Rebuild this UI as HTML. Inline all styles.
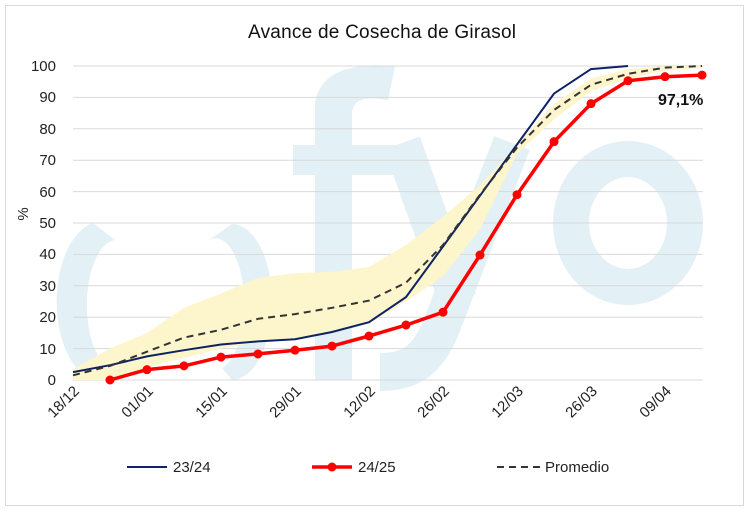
<!DOCTYPE html>
<html><head><meta charset="utf-8"><style>
body{margin:0;background:#fff}
svg{display:block;font-family:"Liberation Sans",sans-serif}
</style></head><body>
<svg width="750" height="514" viewBox="0 0 750 514">
<rect x="5.5" y="5.5" width="738" height="500" fill="#fff" stroke="#d9d9d9"/>
<g fill="#e3f0f5">
<path d="M103 223 A45 80 0 0 0 103 380 L118 367 A30 65 0 0 1 125 240 Z" transform="translate(-10,0)"/>
<path d="M232 224 A40 78 0 0 1 232 380 L222 368 A28 64 0 0 0 209 240 Z"/>
<rect x="315" y="100" width="37" height="280"/>
<path d="M315 110 C315 75 345 62 395 66 L388 100 C362 96 352 100 352 115 Z"/>
<rect x="293" y="145" width="107" height="30"/>
</g>
<g fill="none" stroke="#e3f0f5">
<ellipse cx="628" cy="223" rx="57" ry="64" stroke-width="36"/>
<path d="M402 143 L458 300" stroke-width="38"/>
<path d="M512 143 L440 330 C425 365 405 372 380 372" stroke-width="38"/>
</g>
<g stroke="#d9d9d9" stroke-width="1">
<line x1="73" x2="703" y1="66" y2="66"/><line x1="73" x2="703" y1="97.4" y2="97.4"/>
<line x1="73" x2="703" y1="128.8" y2="128.8"/><line x1="73" x2="703" y1="160.2" y2="160.2"/>
<line x1="73" x2="703" y1="191.6" y2="191.6"/><line x1="73" x2="703" y1="223" y2="223"/>
<line x1="73" x2="703" y1="254.4" y2="254.4"/><line x1="73" x2="703" y1="285.8" y2="285.8"/>
<line x1="73" x2="703" y1="317.2" y2="317.2"/><line x1="73" x2="703" y1="348.6" y2="348.6"/>
<line x1="73" x2="703" y1="380" y2="380"/>
</g>
<g id="plot"></g>
<g font-size="15" fill="#222" text-anchor="end">
<text x="56" y="71">100</text><text x="56" y="102">90</text><text x="56" y="134">80</text>
<text x="56" y="165">70</text><text x="56" y="197">60</text><text x="56" y="228">50</text>
<text x="56" y="259">40</text><text x="56" y="291">30</text><text x="56" y="322">20</text>
<text x="56" y="354">10</text><text x="56" y="385">0</text>
</g>
<text transform="translate(28,214) rotate(-90)" font-size="15" fill="#222" text-anchor="middle">%</text>
<g font-size="15" fill="#222" text-anchor="end">
<text transform="translate(80,392) rotate(-45)">18/12</text>
<text transform="translate(154,392) rotate(-45)">01/01</text>
<text transform="translate(228,392) rotate(-45)">15/01</text>
<text transform="translate(302,392) rotate(-45)">29/01</text>
<text transform="translate(376,392) rotate(-45)">12/02</text>
<text transform="translate(450,392) rotate(-45)">26/02</text>
<text transform="translate(524,392) rotate(-45)">12/03</text>
<text transform="translate(598,392) rotate(-45)">26/03</text>
<text transform="translate(672,392) rotate(-45)">09/04</text>
</g>
<text x="382" y="38" font-size="19" fill="#111" text-anchor="middle" textLength="268">Avance de Cosecha de Girasol</text>
<text x="658" y="105" font-size="16" font-weight="bold" fill="#111">97,1%</text>
<line x1="127" x2="167" y1="467" y2="467" stroke="#0d2366" stroke-width="2"/>
<text x="173" y="472" font-size="15" fill="#222">23/24</text>
<line x1="312" x2="352" y1="467" y2="467" stroke="#f00" stroke-width="3.5"/>
<circle cx="332" cy="467" r="4.5" fill="#f00"/>
<text x="358" y="472" font-size="15" fill="#222">24/25</text>
<line x1="497" x2="540" y1="467" y2="467" stroke="#333" stroke-width="2" stroke-dasharray="7,5"/>
<text x="545" y="472" font-size="15" fill="#222">Promedio</text>
</svg>
<script>
const X=i=>73+37*i, Y=v=>380-3.14*v;
const up=[3.5,10,15,23,27.5,32.5,34,34.5,36,43,52,62,75,88,96,99,100,100];
const lo=[0,0,4,7,10,12,13,15,18,25,33,48,72,83,92,96,98.5,99.5];
const blue=[2.5,4.7,7.5,9.5,11.3,12.3,13,15.3,18.4,26.4,42.5,58.7,75,91.2,99,100];
const avg=[1.5,4.5,9,13.5,16,19.5,21,23,25.3,31,43,59,74,86,94,97.5,99.5,100];
const red=[0,3.3,4.5,7.3,8.3,9.5,10.8,14,17.5,21.6,39.8,59,75.9,88,95.3,96.6,97.1];
const pts=(a,o=0)=>a.map((v,i)=>X(i+o).toFixed(1)+","+Y(v).toFixed(1)).join(" ");
let s='<polygon fill="#fdf5cc" points="'+pts(up)+' '+lo.map((v,i)=>[X(i),Y(v)]).reverse().map(p=>p[0].toFixed(1)+","+p[1].toFixed(1)).join(" ")+'"/>';
s+='<polyline fill="none" stroke="#0d2366" stroke-width="2" points="'+pts(blue)+'"/>';
s+='<polyline fill="none" stroke="#333" stroke-width="2" stroke-dasharray="7,5" points="'+pts(avg)+'"/>';
s+='<polyline fill="none" stroke="#f00" stroke-width="3.5" stroke-linejoin="round" points="'+pts(red,1)+'"/>';
red.forEach((v,i)=>s+='<circle cx="'+X(i+1)+'" cy="'+Y(v)+'" r="4.5" fill="#f00"/>');
document.getElementById("plot").innerHTML=s;
</script>
</body></html>
